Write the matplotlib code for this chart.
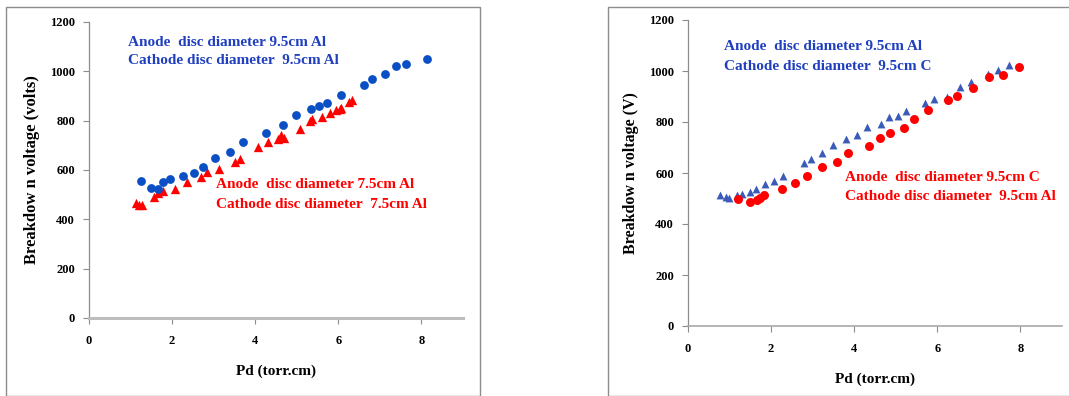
import matplotlib
matplotlib.use("Agg")
import matplotlib.pyplot as plt
from matplotlib.patches import Rectangle

# ---- Data: left panel ----
left_blue_x = [1.25, 1.48, 1.67, 1.78, 1.95, 2.27, 2.52, 2.74, 3.03, 3.40, 3.70, 4.27, 4.66,
               4.99, 5.34, 5.54, 5.72, 6.07, 6.62, 6.81, 7.12, 7.39, 7.62, 8.14]
left_blue_y = [555, 528, 524, 553, 562, 574, 589, 611, 649, 673, 713, 750, 784,
               822, 847, 858, 872, 903, 946, 970, 990, 1022, 1028, 1050]
left_red_x = [1.13, 1.20, 1.27, 1.57, 1.67, 1.79, 2.07, 2.37, 2.69, 2.85, 3.12, 3.52, 3.64,
              4.07, 4.31, 4.55, 4.62, 4.70, 5.08, 5.31, 5.36, 5.60, 5.79, 5.94, 6.04, 6.07,
              6.25, 6.32]
left_red_y = [468, 460, 460, 489, 505, 513, 521, 553, 572, 592, 605, 631, 643,
              692, 712, 725, 740, 728, 766, 797, 806, 814, 832, 843, 849, 852,
              874, 884]

# ---- Data: right panel ----
right_blue_x = [0.77, 0.91, 0.99, 1.19, 1.30, 1.49, 1.63, 1.86, 2.06, 2.29, 2.80, 2.97, 3.23,
                3.48, 3.80, 4.07, 4.31, 4.64, 4.84, 5.06, 5.25, 5.70, 5.93, 6.23, 6.55,
                6.80, 7.22, 7.45, 7.73]
right_blue_y = [515, 507, 501, 514, 519, 527, 539, 558, 570, 587, 639, 656, 680,
                710, 733, 749, 780, 791, 820, 824, 844, 875, 890, 899, 937,
                957, 988, 1004, 1024]
right_red_x = [1.20, 1.49, 1.66, 1.73, 1.84, 2.25, 2.57, 2.87, 3.22, 3.58, 3.86, 4.35, 4.63,
               4.87, 5.20, 5.45, 5.78, 6.26, 6.48, 6.87, 7.25, 7.59, 7.97]
right_red_y = [499, 485, 493, 502, 515, 537, 560, 587, 624, 642, 678, 707, 736,
               756, 775, 811, 846, 886, 903, 935, 978, 986, 1015]

x_ticks = [0, 2, 4, 6, 8]
y_ticks = [0, 200, 400, 600, 800, 1000, 1200]

BLUE_TXT = "#1F3FBF"
RED = "#FF0000"
FONT = "Liberation Serif"

fig = plt.figure(figsize=(10.69, 3.96), dpi=100)

# panel frames
fig.patches.append(Rectangle((6 / 1069, 0.0), (480 - 6) / 1069, 1 - 7 / 396,
                             transform=fig.transFigure, fill=False,
                             edgecolor="#8c8c8c", linewidth=1.0))
fig.patches.append(Rectangle((608 / 1069, 0.0), (1069 - 608) / 1069 + 0.01, 1 - 7 / 396,
                             transform=fig.transFigure, fill=False,
                             edgecolor="#8c8c8c", linewidth=1.0))

ax1 = fig.add_axes([89 / 1069, 1 - 318 / 396, (463 - 89) / 1069, (318 - 22) / 396])
ax2 = fig.add_axes([688 / 1069, 1 - 326 / 396, (1062 - 688) / 1069, (326 - 20) / 396])


def style(ax, bottom_lw, bottom_col):
    ax.set_xlim(0, 9)
    ax.set_ylim(0, 1200)
    ax.set_xticks(x_ticks)
    ax.set_yticks(y_ticks)
    ax.set_xticklabels([str(t) for t in x_ticks], fontfamily=FONT, fontweight="bold", fontsize=9)
    ax.set_yticklabels([str(t) for t in y_ticks], fontfamily=FONT, fontweight="bold", fontsize=9)
    for s in ["top", "right"]:
        ax.spines[s].set_visible(False)
    ax.spines["left"].set_color("#8c8c8c")
    ax.spines["left"].set_linewidth(0.9)
    ax.spines["bottom"].set_color(bottom_col)
    ax.spines["bottom"].set_linewidth(bottom_lw)
    ax.tick_params(axis="both", direction="out", length=4, width=0.8, color="#8c8c8c")
    ax.tick_params(axis="x", pad=8)
    ax.tick_params(axis="y", pad=6)
    ax.set_facecolor("white")


style(ax1, 2.2, "#bdbdbd")
style(ax2, 1.2, "#a8a8a8")

ax1.scatter(left_red_x, left_red_y, marker="^", s=45, color=RED, zorder=3, linewidths=0)
ax1.scatter(left_blue_x, left_blue_y, marker="o", s=40, color="#0A4FC4", zorder=3, linewidths=0)

ax2.scatter(right_blue_x, right_blue_y, marker="^", s=32, color="#3A5BB8", zorder=3, linewidths=0)
ax2.scatter(right_red_x, right_red_y, marker="o", s=42, color=RED, zorder=3, linewidths=0)

ax1.set_ylabel("Breakdow n voltage (volts)", fontfamily=FONT, fontweight="bold", fontsize=12, labelpad=7)
ax2.set_ylabel("Breakdow n voltage (V)", fontfamily=FONT, fontweight="bold", fontsize=11.5, labelpad=7)
ax1.set_xlabel("Pd (torr.cm)", fontfamily=FONT, fontweight="bold", fontsize=11, labelpad=13)
ax2.set_xlabel("Pd (torr.cm)", fontfamily=FONT, fontweight="bold", fontsize=11, labelpad=13)

tk = dict(fontfamily=FONT, fontweight="bold", fontsize=11, ha="left", va="center",
          transform=fig.transFigure)
fig.text(128 / 1069, 1 - 42 / 396, "Anode  disc diameter 9.5cm Al", color=BLUE_TXT, **tk)
fig.text(128 / 1069, 1 - 61 / 396, "Cathode disc diameter  9.5cm Al", color=BLUE_TXT, **tk)
fig.text(216 / 1069, 1 - 185 / 396, "Anode  disc diameter 7.5cm Al", color=RED, **tk)
fig.text(216 / 1069, 1 - 204 / 396, "Cathode disc diameter  7.5cm Al", color=RED, **tk)

fig.text(724 / 1069, 1 - 47 / 396, "Anode  disc diameter 9.5cm Al", color=BLUE_TXT, **tk)
fig.text(724 / 1069, 1 - 66 / 396, "Cathode disc diameter  9.5cm C", color=BLUE_TXT, **tk)
fig.text(845 / 1069, 1 - 177 / 396, "Anode  disc diameter 9.5cm C", color=RED, **tk)
fig.text(845 / 1069, 1 - 196 / 396, "Cathode disc diameter  9.5cm Al", color=RED, **tk)

fig.savefig("out.png", dpi=100, facecolor="white")
